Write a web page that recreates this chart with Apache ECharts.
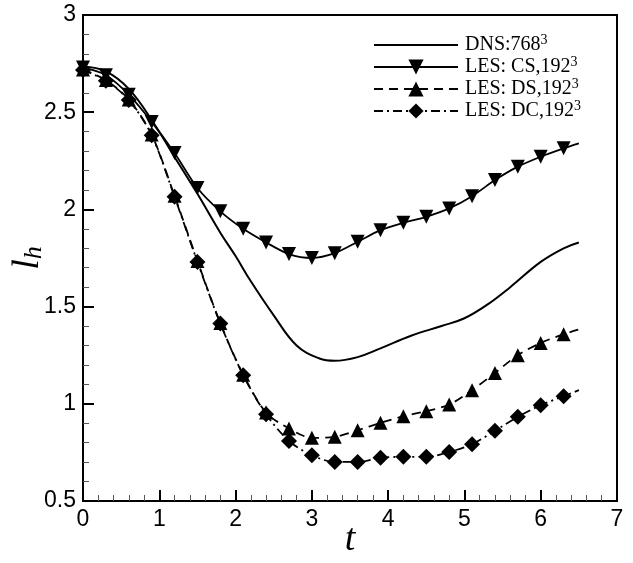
<!DOCTYPE html>
<html>
<head>
<meta charset="utf-8">
<script src="https://cdn.jsdelivr.net/npm/echarts@6/dist/echarts.min.js"></script>
<style>
  html, body { margin: 0; padding: 0; background: #fff; }
  #main { width: 633px; height: 563px; }
</style>
</head>
<body>
<div id="main"></div>
<script>
// times shared by the three LES runs (marker every 0.3, last point only on the line)
var lesT = [0, 0.3, 0.6, 0.9, 1.2, 1.5, 1.8, 2.1, 2.4, 2.7, 3.0, 3.3, 3.6, 3.9, 4.2, 4.5, 4.8, 5.1, 5.4, 5.7, 6.0, 6.3, 6.5];

var csL = [2.73, 2.69, 2.59, 2.45, 2.29, 2.11, 1.99, 1.90, 1.83, 1.77, 1.75, 1.775, 1.833, 1.893, 1.931, 1.962, 2.005, 2.068, 2.151, 2.22, 2.271, 2.314, 2.34];
var dsL = [2.72, 2.665, 2.565, 2.385, 2.07, 1.735, 1.415, 1.15, 0.955, 0.873, 0.825, 0.830, 0.864, 0.902, 0.936, 0.962, 0.996, 1.07, 1.159, 1.25, 1.313, 1.358, 1.382];
var dcL = [2.717, 2.662, 2.563, 2.382, 2.065, 1.73, 1.413, 1.147, 0.946, 0.809, 0.735, 0.701, 0.701, 0.722, 0.727, 0.727, 0.752, 0.792, 0.861, 0.933, 0.993, 1.039, 1.07];

// DNS reference curve
var dnsT = [0, 0.3, 0.6, 0.9, 1.2, 1.5, 1.8, 2.0, 2.2, 2.5, 2.8, 3.1, 3.3, 3.6, 3.9, 4.3, 4.7, 5.0, 5.3, 5.6, 6.0, 6.3, 6.5];
var dnsL = [2.735, 2.71, 2.62, 2.46, 2.27, 2.08, 1.88, 1.76, 1.63, 1.455, 1.30, 1.233, 1.221, 1.24, 1.285, 1.35, 1.40, 1.44, 1.51, 1.60, 1.73, 1.80, 1.83];

var names = ['DNS:768³', 'LES: CS,192³', 'LES: DS,192³', 'LES: DC,192³'];

function pairs(t, v, marks) {
  return t.map(function (x, i) {
    if (marks && i == t.length - 1) {
      return { value: [x, v[i]], symbol: 'none' };
    }
    return [x, v[i]];
  });
}

var myChart = echarts.init(document.getElementById('main'));

var axisFont = { fontFamily: 'Liberation Sans, Arial, sans-serif', fontSize: 23, color: '#000' };
var serif = 'Liberation Serif, Times New Roman, serif';

option = {
  backgroundColor: '#fff',
  animation: false,
  grid: {
    left: 83, right: 16, top: 15, bottom: 62,
    outerBoundsMode: 'none',
    containLabel: false,
    show: true, borderColor: '#000', borderWidth: 2, backgroundColor: 'transparent'
  },
  legend: {
    orient: 'vertical',
    left: 368,
    top: 28,
    itemWidth: 84,
    itemHeight: 19,
    itemGap: 0,
    data: [
      { name: names[0], itemStyle: { opacity: 0 } },
      names[1], names[2], names[3]
    ],
    formatter: function (name) {
      return '{a|' + name.replace('³', '') + '}{s|3}';
    },
    textStyle: {
      color: '#000',
      rich: {
        a: { fontFamily: serif, fontSize: 20, lineHeight: 24, color: '#000', padding: [0, 0, 0, 2] },
        s: { fontFamily: serif, fontSize: 14, verticalAlign: 'top', color: '#000' }
      }
    }
  },
  xAxis: {
    type: 'value',
    min: 0, max: 7, interval: 1,
    name: 't',
    nameLocation: 'middle',
    nameGap: 20,
    nameMoveOverlap: false,
    nameTextStyle: { fontFamily: serif, fontStyle: 'italic', fontSize: 38, color: '#000' },
    axisLine: { lineStyle: { color: '#000', width: 2 } },
    axisTick: { inside: true, length: 11, lineStyle: { color: '#000', width: 2 } },
    minorTick: { show: true, splitNumber: 5, length: 6, lineStyle: { color: '#555', width: 1 } },
    splitLine: { show: false },
    axisLabel: Object.assign({ margin: 7 }, axisFont)
  },
  yAxis: {
    type: 'value',
    min: 0.5, max: 3, interval: 0.5,
    name: '{l|l}{h|h}',
    nameLocation: 'middle',
    nameGap: 36,
    nameRotate: 90,
    nameMoveOverlap: false,
    nameTextStyle: {
      rich: {
        l: { fontFamily: serif, fontStyle: 'italic', fontSize: 38, color: '#000' },
        h: { fontFamily: serif, fontStyle: 'italic', fontSize: 26, color: '#000', padding: [12, 0, 0, 0] }
      }
    },
    axisLine: { lineStyle: { color: '#000', width: 2 } },
    axisTick: { inside: true, length: 11, lineStyle: { color: '#000', width: 2 } },
    minorTick: { show: true, splitNumber: 5, length: 6, lineStyle: { color: '#555', width: 1 } },
    splitLine: { show: false },
    axisLabel: Object.assign({ margin: 7 }, axisFont)
  },
  series: [
    {
      name: names[0],
      type: 'line',
      smooth: 0.4,
      symbol: 'none',
      lineStyle: { color: '#000', width: 2, type: 'solid' },
      itemStyle: { color: '#000' },
      data: pairs(dnsT, dnsL, false)
    },
    {
      name: names[1],
      type: 'line',
      smooth: 0.3,
      symbol: 'triangle',
      symbolRotate: 180,
      symbolSize: 14,
      lineStyle: { color: '#000', width: 1.8, type: 'solid' },
      itemStyle: { color: '#000' },
      data: pairs(lesT, csL, true)
    },
    {
      name: names[2],
      type: 'line',
      smooth: 0.3,
      symbol: 'triangle',
      symbolSize: 14,
      lineStyle: { color: '#000', width: 1.8, type: [9, 6] },
      itemStyle: { color: '#000' },
      data: pairs(lesT, dsL, true)
    },
    {
      name: names[3],
      type: 'line',
      smooth: 0.3,
      symbol: 'diamond',
      symbolSize: 16,
      lineStyle: { color: '#000', width: 1.8, type: [9, 4, 2, 4] },
      itemStyle: { color: '#000' },
      data: pairs(lesT, dcL, true)
    }
  ]
};

myChart.setOption(option);
</script>
</body>
</html>
